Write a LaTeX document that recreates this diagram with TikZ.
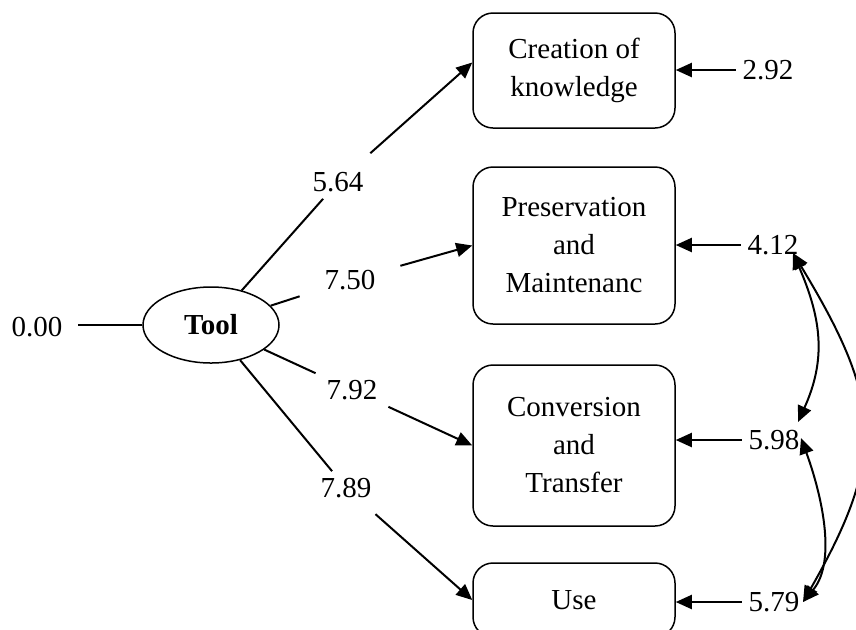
\documentclass[tikz,border=0pt]{standalone}
\usepackage{fontspec}
\setmainfont{Liberation Serif}
\usetikzlibrary{arrows.meta,shapes.geometric}

\tikzset{
  factor/.style={draw, ellipse, line width=0.75pt, minimum width=68pt, minimum height=38pt, inner sep=0pt, font=\fontsize{14.5}{19}\selectfont\bfseries},
  indicator/.style={draw, line width=0.75pt, rounded corners=10pt, minimum width=101pt, align=center, font=\fontsize{14.5}{19}\selectfont},
  loading/.style={inner xsep=12pt, inner ysep=3pt, font=\fontsize{14.5}{19}\selectfont},
  errlabel/.style={inner xsep=3pt, inner ysep=1pt, font=\fontsize{14.5}{19}\selectfont}
}

\begin{document}
\begin{tikzpicture}[x=0.5pt, y=-0.5pt, line width=1pt, >={Triangle[length=8pt,width=7pt]}]
\useasboundingbox (0,0) rectangle (856,629);
\clip (0,0) rectangle (856,629);

\node[factor] (tool) at (211,325) {Tool};

\node[indicator, minimum height=57.5pt] (creat) at (574,70.5) {Creation of\\knowledge};
\node[indicator, minimum height=78.5pt] (pres) at (574,245.5) {Preservation\\and\\Maintenanc};
\node[indicator, minimum height=80.5pt] (conv) at (574,445.5) {Conversion\\and\\Transfer};
\node[indicator, minimum height=37pt] (use) at (574,600) {Use};

\node[loading, inner xsep=7.5pt] (w0) at (37,327) {0.00};
\node[loading] (w1) at (338,182) {5.64};
\node[loading] (w2) at (350,280) {7.50};
\node[loading] (w3) at (352,390) {7.92};
\node[loading] (w4) at (346,488) {7.89};

\node[errlabel] (e1) at (768,70) {2.92};
\node[errlabel] (e2) at (773,245) {4.12};
\node[errlabel] (e3) at (774,440) {5.98};
\node[errlabel] (e4) at (774,602) {5.79};

% paths from the factor
\draw (w0.east |- tool) -- (tool);
\draw (tool) -- (w1);
\draw[->, shorten <=9pt] (w1) -- ([yshift=4pt]creat.west);
\draw (tool) -- (w2);
\draw[->] (w2) -- (pres.west);
\draw (tool) -- (w3);
\draw[->] (w3) -- (conv.west);
\draw (tool) -- (w4);
\draw[->, shorten <=7pt] (w4) -- (use.west);

% error terms
\draw[->] (e1) -- (e1 -| creat.east);
\draw[->] (e2) -- (e2 -| pres.east);
\draw[->] (e3) -- (e3 -| conv.east);
\draw[->] (e4) -- (e4 -| use.east);

% covariances
\draw[<->] ([shift={(20,8)}]e2.center) .. controls +(29,67) and +(28,-62) .. ([shift={(24,-18)}]e3.center);
\draw[<->] ([shift={(27,-2)}]e3.center) .. controls +(19,52) and +(35,-42) .. ([shift={(29,0)}]e4.center);
\draw[<->] ([shift={(20,8)}]e2.center) .. controls +(89,147) and +(84,-147) .. ([shift={(29,0)}]e4.center);
\end{tikzpicture}
\end{document}
